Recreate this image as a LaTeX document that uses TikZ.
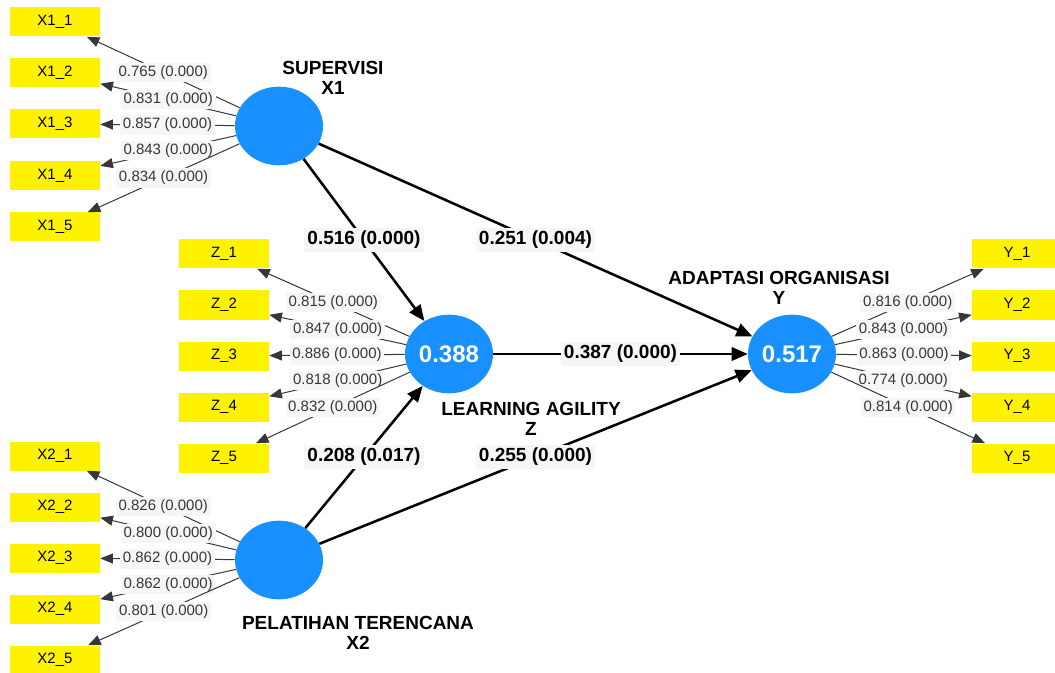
\documentclass[tikz,border=0pt]{standalone}
\usepackage{fontspec}
\setmainfont{Liberation Sans}
\usetikzlibrary{arrows.meta}
\usetikzlibrary{shapes.geometric}

\definecolor{lvblue}{RGB}{24,144,255}
\definecolor{labbg}{RGB}{246,246,246}
\definecolor{loadgray}{RGB}{55,55,55}

\tikzset{
	latent/.style={ellipse, fill=lvblue, minimum width=66pt, minimum height=59pt, inner sep=0pt,
		text=white, font=\fontsize{18}{20}\selectfont\bfseries},
	indicator/.style={rectangle, fill=yellow, minimum width=67.5pt, minimum height=21.75pt,
		inner sep=0pt, font=\fontsize{11.25}{12}\selectfont},
	loadline/.style={draw=loadgray, line width=0.75pt, -{Triangle[length=9.5pt,width=7.5pt]}},
	pathline/.style={draw=black, line width=1.9pt, -{Triangle[length=12pt,width=10pt]}},
	loadlab/.style={fill=labbg, inner sep=2pt, text=loadgray, font=\fontsize{11.25}{12}\selectfont},
	pathlab/.style={fill=labbg, inner sep=2.5pt, font=\fontsize{14.25}{15}\selectfont\bfseries},
	lvname/.style={align=center, font=\fontsize{14.25}{14.5}\selectfont\bfseries},
}

\newcommand{\loading}[3]{ % latent, indicator, value
	\draw[loadline] (#1) -- node[loadlab]{#3 (0.000)} (#2);
}

\begin{document}
\begin{tikzpicture}[x=0.75pt, y=-0.75pt]

\path[use as bounding box] (0,0) rectangle (1055,673);
\clip (0,0) rectangle (1055,673);

% latent variables
\node[latent] (sup) at (279,126) {};
\node[latent] (la) at (449,354) {0.388};
\node[latent] (ao) at (792,354) {0.517};
\node[latent] (pt) at (279,560) {};

\node[lvname] at (333,78) {SUPERVISI\\X1};
\node[lvname] at (779,288) {ADAPTASI ORGANISASI\\Y};
\node[lvname] at (531,419) {LEARNING AGILITY\\Z};
\node[lvname] at (358,633) {PELATIHAN TERENCANA\\X2};

% indicators
\node[indicator] (x11) at (55,22) {X1\_1};
\node[indicator] (x12) at (55,73) {X1\_2};
\node[indicator] (x13) at (55,124) {X1\_3};
\node[indicator] (x14) at (55,176) {X1\_4};
\node[indicator] (x15) at (55,227) {X1\_5};

\node[indicator] (z1) at (224,254) {Z\_1};
\node[indicator] (z2) at (224,305) {Z\_2};
\node[indicator] (z3) at (224,356) {Z\_3};
\node[indicator] (z4) at (224,407) {Z\_4};
\node[indicator] (z5) at (224,458) {Z\_5};

\node[indicator] (y1) at (1017,254) {Y\_1};
\node[indicator] (y2) at (1017,305) {Y\_2};
\node[indicator] (y3) at (1017,356) {Y\_3};
\node[indicator] (y4) at (1017,407) {Y\_4};
\node[indicator] (y5) at (1017,458) {Y\_5};

\node[indicator] (x21) at (55,456) {X2\_1};
\node[indicator] (x22) at (55,507) {X2\_2};
\node[indicator] (x23) at (55,558) {X2\_3};
\node[indicator] (x24) at (55,609) {X2\_4};
\node[indicator] (x25) at (55,660) {X2\_5};

% outer loadings
\loading{sup}{x11}{0.765}
\loading{sup}{x12}{0.831}
\loading{sup}{x13}{0.857}
\loading{sup}{x14}{0.843}
\loading{sup}{x15}{0.834}

\loading{la}{z1}{0.815}
\loading{la}{z2}{0.847}
\loading{la}{z3}{0.886}
\loading{la}{z4}{0.818}
\loading{la}{z5}{0.832}

\loading{ao}{y1}{0.816}
\loading{ao}{y2}{0.843}
\loading{ao}{y3}{0.863}
\loading{ao}{y4}{0.774}
\loading{ao}{y5}{0.814}

\loading{pt}{x21}{0.826}
\loading{pt}{x22}{0.800}
\loading{pt}{x23}{0.862}
\loading{pt}{x24}{0.862}
\loading{pt}{x25}{0.801}

% path coefficients
\draw[pathline] (sup) -- node[pathlab]{0.516 (0.000)} (la);
\draw[pathline] (sup) -- node[pathlab]{0.251 (0.004)} (ao);
\draw[pathline] (la) -- node[pathlab]{0.387 (0.000)} (ao);
\draw[pathline] (pt) -- node[pathlab]{0.208 (0.017)} (la);
\draw[pathline] (pt) -- node[pathlab]{0.255 (0.000)} (ao);

\end{tikzpicture}
\end{document}
